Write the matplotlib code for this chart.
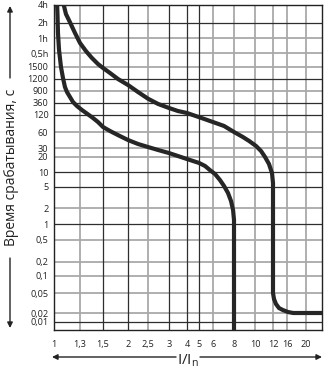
import numpy as np
import matplotlib
matplotlib.use("Agg")
import matplotlib.pyplot as plt
from matplotlib.patches import FancyArrowPatch

plt.rcParams['font.family'] = ['Open Sans', 'DejaVu Sans']
plt.rcParams['mathtext.fontset'] = 'custom'
plt.rcParams['mathtext.rm'] = 'Open Sans'

# time axis (seconds) as printed
t_ticks = [14400, 7200, 3600, 1800, 1500, 1200, 900, 360, 120, 60, 30, 20, 10,
           5, 2, 1, 0.5, 0.2, 0.1, 0.05, 0.02, 0.01]
t_labels = ['4h', '2h', '1h', '0,5h', '1500', '1200', '900', '360', '120', '60',
            '30', '20', '10', '5', '2', '1', '0,5', '0,2', '0,1', '0,05', '0,02', '0,01']
t_dark = [7200, 1200, 360, 120, 10, 5, 1, 0.01]

# current multiple axis
i_ticks = [1, 1.3, 1.5, 2, 2.5, 3, 4, 5, 6, 8, 10, 12, 16, 20]
i_labels = ['1', '1,3', '1,5', '2', '2,5', '3', '4', '5', '6', '8', '10', '12', '16', '20']
i_dark = [1.5, 2, 3, 4, 5]

# lower (fast) curve
lo_i = [1.03, 1.036, 1.041, 1.052, 1.073, 1.095, 1.117, 1.14, 1.175, 1.211, 1.26,
        1.316, 1.357, 1.41, 1.454, 1.5, 1.626, 1.782, 2, 2.236, 2.5, 2.73, 3, 3.46,
        4, 5, 5.41, 5.77, 6.17, 6.6, 6.98, 7.37, 7.68, 7.9, 8, 8]
lo_t = [20000, 9810, 4535, 2067, 1500, 1222, 990, 833, 569, 389, 274,
        189, 137, 106, 90.1, 73.6, 62.5, 52.5, 42.4, 35.7, 31.3, 27.4, 23.9, 20.9,
        18.2, 15.2, 13.2, 10.9, 9.1, 6.9, 5.24, 3.85, 2.71, 1.83, 1.19, 0.003]

# upper (slow) curve
hi_i = [1.09, 1.128, 1.175, 1.236, 1.3, 1.349, 1.4, 1.454, 1.5, 1.626, 1.782, 2,
        2.236, 2.5, 2.73, 3, 3.46, 4, 5, 6, 6.98, 8, 8.79, 9.4, 10.1, 10.63, 11.07,
        11.52, 11.88, 12, 12, 12.25, 12.76, 13.57, 14.7, 16.2, 17.2, 25]
hi_t = [20000, 10180, 7400, 4535, 2860, 1968, 1687, 1559, 1473, 1342, 1200, 1039,
        833, 500, 329, 228, 173, 144, 110, 90, 76.7, 60, 48.3, 40.6, 32.8, 26.2, 20,
        14.5, 9.5, 6.0, 0.05, 0.038, 0.0302, 0.0251, 0.0229, 0.0209, 0.02, 0.02]

# printed (non-uniform) grid spacing, in pixels of the original sheet
t_anchor = [1e5, 14400, 7200, 3600, 1800, 1500, 1200, 900, 360, 120, 60, 30, 20, 10,
            5, 2, 1, 0.5, 0.2, 0.1, 0.05, 0.02, 0.01, 0.005, 1e-3]
t_pix = [-25, 5, 23, 38, 53, 67, 79, 91, 103, 115, 132, 148, 157, 172,
         187, 208, 224, 240, 262, 276, 293, 313, 322, 330, 350]
i_anchor = [0.5, 1, 1.3, 1.5, 2, 2.5, 3, 4, 5, 6, 8, 10, 12, 16, 20, 25, 40]
i_pix = [20, 54, 80, 103, 128, 148, 169, 187, 199, 213, 234, 255, 273, 287, 306, 322, 345]

ty_log = np.log10(t_anchor)[::-1]
ty_pos = -np.array(t_pix, float)[::-1]
ix_log = np.log10(i_anchor)
ix_pos = np.array(i_pix, float)


def t_fwd(v):
    return np.interp(np.log10(np.clip(v, 1e-9, None)), ty_log, ty_pos)


def t_inv(p):
    return 10 ** np.interp(p, ty_pos, ty_log)


def i_fwd(v):
    return np.interp(np.log10(np.clip(v, 1e-9, None)), ix_log, ix_pos)


def i_inv(p):
    return 10 ** np.interp(p, ix_pos, ix_log)


fig = plt.figure(figsize=(3.25, 3.68), dpi=100)
ax = fig.add_axes([54 / 325, 1 - 330 / 368, (322 - 54) / 325, (330 - 5) / 368])
ax.set_xscale('function', functions=(i_fwd, i_inv))
ax.set_yscale('function', functions=(t_fwd, t_inv))
ax.set_xlim(1, 25)
ax.set_ylim(0.005, 14400)

# grid
for v in t_ticks:
    if v in t_dark:
        ax.axhline(v, color='#2e2e2e', lw=0.9, zorder=1)
    else:
        ax.axhline(v, color='#a9a9a9', lw=1.3, zorder=0.5)
for v in i_ticks[1:]:
    if v in i_dark:
        ax.axvline(v, color='#2e2e2e', lw=0.9, zorder=1)
    else:
        ax.axvline(v, color='#a9a9a9', lw=1.3, zorder=0.5)

ax.plot(lo_i, lo_t, color='#262626', lw=3.0, solid_joinstyle='round',
        solid_capstyle='butt', zorder=3)
ax.plot(hi_i, hi_t, color='#262626', lw=3.0, solid_joinstyle='round',
        solid_capstyle='butt', zorder=3)

ax.set_yticks(t_ticks)
ax.set_yticklabels(t_labels)
ax.set_xticks(i_ticks)
ax.set_xticklabels(i_labels)
ax.yaxis.set_minor_locator(matplotlib.ticker.NullLocator())
ax.xaxis.set_minor_locator(matplotlib.ticker.NullLocator())
ax.tick_params(axis='both', length=0, labelsize=6.6, colors='#222222')
ax.tick_params(axis='y', pad=4)
ax.tick_params(axis='x', pad=7)
for s in ax.spines.values():
    s.set_color('#222222')
    s.set_linewidth(1.0)

# axis titles with arrows
fig.text(12 / 325, 1 - 167 / 368, 'Время срабатывания, с', rotation=90,
         ha='center', va='center', fontsize=10, color='#222222')
fig.text(188 / 325, 1 - 361 / 368, r'$\mathregular{I/I_n}$',
         ha='center', va='center', fontsize=11, color='#222222')

arrows = [((10, 368 - 78), (10, 368 - 6)),
          ((10, 368 - 258), (10, 368 - 328)),
          ((176, 11), (52, 11)),
          ((200, 11), (322, 11))]
for (x0, y0), (x1, y1) in arrows:
    fig.add_artist(FancyArrowPatch((x0 / 325, y0 / 368), (x1 / 325, y1 / 368),
                                   transform=fig.transFigure, arrowstyle='-|>',
                                   mutation_scale=8, lw=1.0, color='#222222',
                                   shrinkA=0, shrinkB=0))

fig.savefig('out.png', dpi=100)
